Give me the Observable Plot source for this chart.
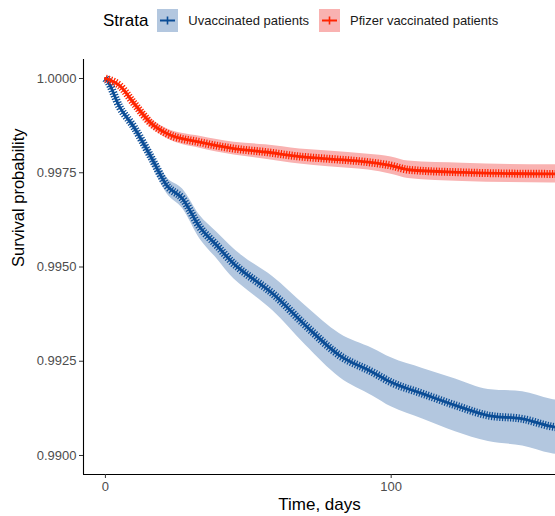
<!DOCTYPE html>
<html>
<head>
<meta charset="utf-8">
<script src="https://cdn.jsdelivr.net/npm/d3@7"></script>
<script src="https://cdn.jsdelivr.net/npm/@observablehq/plot@0.6"></script>
<style>
  html, body { margin: 0; padding: 0; background: #fff; overflow: hidden; }
  body { width: 555px; height: 516px; font-family: "Liberation Sans", Arial, sans-serif; }
  #legend { height: 40px; display: flex; align-items: center; padding-left: 103px; box-sizing: border-box; padding-top: 1px; }
  #legend .title { font-size: 17px; color: #000; margin-right: 9px; }
  #legend .key { width: 21px; height: 23px; display: inline-block; margin-right: 10px; }
  #legend .lab { font-size: 13px; color: #1a1a1a; margin-right: 10px; }
  #chart svg { display: block; }
</style>
</head>
<body>
<div id="legend"></div>
<div id="chart"></div>
<script>
// ---- data ----
const strata = ["Uvaccinated patients", "Pfizer vaccinated patients"];
const lineColors = ["#0b4d96", "#ff2400"];
const bandColors = ["#b3c7df", "#f9b2b1"];

const unvacDays  = [0, 0.6, 5, 10, 16, 21.5, 27, 33, 39, 45, 47, 58.6, 70, 82, 93.5, 100, 111, 122.5, 134, 146, 156, 157.5];
const unvacSurv  = [1.0, 0.99995, 0.99924, 0.99871, 0.99791, 0.99716, 0.99681, 0.99606, 0.99557, 0.99508, 0.99495, 0.99429, 0.99345, 0.99265, 0.99221, 0.99194, 0.99164, 0.99133, 0.99106, 0.99097, 0.99077, 0.99075];
const unvacLower = [1.0, 0.99994, 0.99919, 0.99860, 0.99775, 0.99695, 0.99655, 0.99575, 0.99522, 0.99468, 0.99455, 0.99384, 0.99293, 0.99207, 0.99158, 0.99129, 0.99097, 0.99063, 0.99037, 0.99025, 0.99005, 0.99003];
const unvacUpper = [1.0, 0.99996, 0.99929, 0.99882, 0.99807, 0.99737, 0.99707, 0.99637, 0.99592, 0.99548, 0.99535, 0.99474, 0.99397, 0.99323, 0.99284, 0.99259, 0.99231, 0.99203, 0.99175, 0.99169, 0.99149, 0.99147];

const pfizerDays  = [0, 1.2, 5, 10, 16, 21.5, 33, 45, 56, 68, 78, 92, 100, 106, 125, 156, 157.5];
const pfizerSurv  = [1.0, 0.99997, 0.99981, 0.99934, 0.99881, 0.99854, 0.99831, 0.99814, 0.99805, 0.99793, 0.99787, 0.99778, 0.99769, 0.99758, 0.99751, 0.99747, 0.99747];
const pfizerLower = [1.0, 0.99996, 0.99977, 0.99926, 0.99870, 0.99841, 0.99815, 0.99797, 0.99786, 0.99773, 0.99766, 0.99757, 0.99746, 0.99735, 0.99727, 0.99723, 0.99723];
const pfizerUpper = [1.0, 0.99998, 0.99985, 0.99942, 0.99892, 0.99867, 0.99847, 0.99831, 0.99824, 0.99813, 0.99808, 0.99799, 0.99792, 0.99781, 0.99775, 0.99771, 0.99771];

const xTicks = [0, 100];
const yTicks = [0.9900, 0.9925, 0.9950, 0.9975, 1.0000];

// ---- build tables ----
function rows(days, s, lo, hi, k) {
  return days.map((d, i) => ({ day: d, surv: s[i], lo: lo[i], hi: hi[i], strata: strata[k] }));
}
const unvac = rows(unvacDays, unvacSurv, unvacLower, unvacUpper, 0);
const pfizer = rows(pfizerDays, pfizerSurv, pfizerLower, pfizerUpper, 1);

// ---- legend ----
const leg = document.getElementById("legend");
leg.innerHTML = `<span class="title">Strata</span>` + strata.map((s, i) =>
  `<svg class="key" viewBox="0 0 21 23" style="background:${bandColors[i]}"><line x1="3" x2="18" y1="11.5" y2="11.5" stroke="${lineColors[i]}" stroke-width="2"/><line x1="10.5" x2="10.5" y1="7.5" y2="15.5" stroke="${lineColors[i]}" stroke-width="1.6"/></svg><span class="lab">${s}</span>`
).join("");

// ---- chart ----
const xDomain = [-7.67, 157.5];
const yDomain = [0.989496, 1.000504];
const series = [unvac, pfizer];

const marks = [];
series.forEach((data, i) => {
  marks.push(Plot.areaY(data, { x: "day", y1: "lo", y2: "hi", fill: bandColors[i], curve: "monotone-x" }));
});
series.forEach((data, i) => {
  marks.push(Plot.line(data, { x: "day", y: "surv", stroke: lineColors[i], strokeWidth: 8, strokeDasharray: "1.2 1.5", strokeLinecap: "butt", strokeLinejoin: "miter", curve: "monotone-x" }));
  marks.push(Plot.line(data, { x: "day", y: "surv", stroke: lineColors[i], strokeWidth: 2.8, curve: "monotone-x" }));
});
marks.push(Plot.ruleX([xDomain[0]], { stroke: "#000", strokeWidth: 1.1 }));
marks.push(Plot.ruleY([yDomain[0]], { stroke: "#000", strokeWidth: 1.1 }));
marks.push(Plot.axisX(xTicks, { tickSize: 4, tickPadding: 3, fontSize: 13, color: "#4d4d4d", stroke: "#333", label: null, tickFormat: d => String(d) }));
marks.push(Plot.axisY(yTicks, { tickSize: 4, tickPadding: 3, fontSize: 13, color: "#4d4d4d", stroke: "#333", label: null, tickFormat: d => d.toFixed(4) }));
marks.push(Plot.text(["Survival probability"], { frameAnchor: "left", dx: -65, rotate: -90, fontSize: 16.5, fill: "#000" }));
marks.push(Plot.text(["Time, days"], { frameAnchor: "bottom", dy: 35, fontSize: 17, fill: "#000" }));

const chart = Plot.plot({
  width: 555,
  height: 476,
  marginLeft: 83,
  marginRight: 0,
  marginTop: 19,
  marginBottom: 42,
  style: { fontFamily: "'Liberation Sans', Arial, sans-serif", background: "#fff", overflow: "visible" },
  x: { domain: xDomain },
  y: { domain: yDomain },
  marks
});
document.getElementById("chart").appendChild(chart);
</script>
</body>
</html>
